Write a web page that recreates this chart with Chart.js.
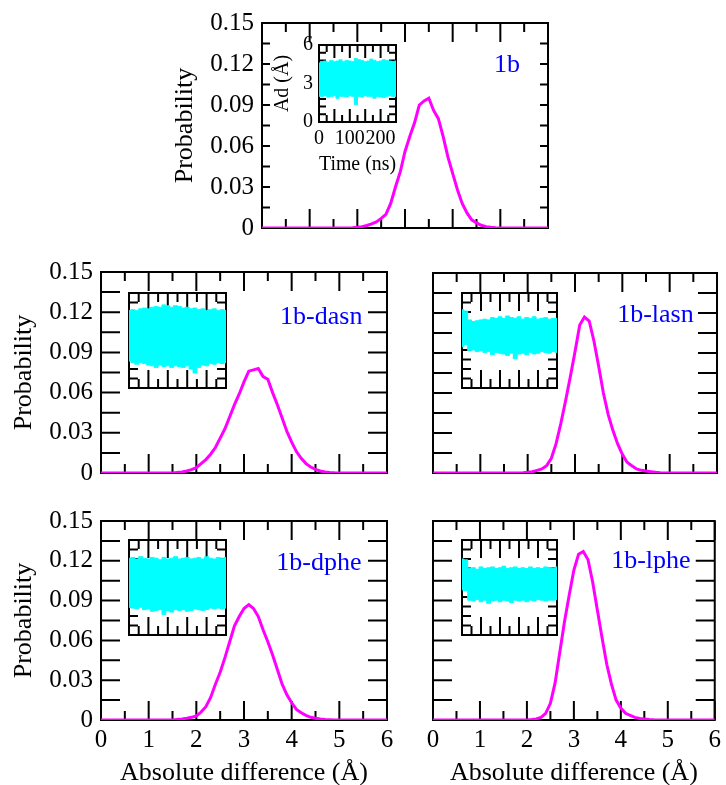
<!DOCTYPE html>
<html><head><meta charset="utf-8">
<script src="https://cdn.jsdelivr.net/npm/chart.js@4/dist/chart.umd.min.js"></script>
<style>
html,body{margin:0;padding:0;background:#fff;overflow:hidden;width:726px;height:785px;}
#wrap{position:relative;width:726px;height:785px;overflow:hidden;}
canvas{position:absolute;left:0;top:0;}
</style></head><body><div id="wrap"></div>
<script>
// ---- data ----
const absDiff = [0, 1.5,1.6,1.7,1.8,1.9, 2.0,2.1,2.2,2.3,2.4,2.5,2.6,2.7,2.8,2.9, 3.0,3.1,3.2,3.3,3.4,3.5,3.6,3.7,3.8,3.9, 4.0,4.1,4.2,4.3,4.4,4.5,4.6,4.7,4.8,4.9, 5.0, 6.0];
const prob1b   = [0, 0,0,0,0,0.0002, 0.0005,0.001,0.0018,0.003,0.0045,0.007,0.010,0.018,0.030,0.041, 0.056,0.067,0.077,0.090,0.093,0.095,0.086,0.080,0.067,0.052, 0.040,0.028,0.018,0.011,0.006,0.0037,0.002,0.001,0.0005,0.0002, 0, 0];
const prob1bDasn = [0, 0,0.0004,0.0008,0.0015,0.0025, 0.004,0.007,0.010,0.014,0.019,0.026,0.033,0.042,0.051,0.059, 0.068,0.076,0.077,0.078,0.072,0.070,0.060,0.051,0.041,0.031, 0.023,0.016,0.011,0.007,0.0045,0.0027,0.0015,0.0008,0.0004,0.0001, 0, 0];
const prob1bLasn = [0, 0,0,0,0,0.0002, 0.0005,0.001,0.002,0.003,0.0055,0.011,0.022,0.037,0.054,0.072, 0.091,0.111,0.117,0.114,0.099,0.080,0.060,0.044,0.032,0.022, 0.014,0.008,0.0055,0.003,0.002,0.0015,0.001,0.0005,0.0002,0, 0, 0];
const prob1bDphe = [0, 0,0.0004,0.0008,0.0013,0.002, 0.003,0.006,0.010,0.017,0.027,0.036,0.047,0.059,0.071,0.078, 0.084,0.087,0.084,0.078,0.068,0.059,0.049,0.038,0.027,0.019, 0.013,0.008,0.0055,0.0035,0.002,0.0013,0.0007,0.0004,0.0002,0, 0, 0];
const prob1bLphe = [0, 0,0,0,0,0, 0,0.0003,0.0008,0.002,0.005,0.0126,0.028,0.051,0.074,0.094, 0.113,0.125,0.127,0.121,0.104,0.083,0.062,0.042,0.027,0.015, 0.009,0.005,0.0035,0.002,0.0012,0.0008,0.0004,0.0001,0,0, 0, 0];

const insetTime = [0,10,20,30,40,50,60,70,80,90,100,110,120,130,140,150,160,170,180,190,200,210,220,230,240,250];
const ad1bHigh = [4.6,4.7,4.75,4.65,4.8,4.7,4.75,4.85,4.7,4.8,4.75,4.7,4.95,4.85,4.8,4.7,4.75,4.9,4.8,4.7,4.75,4.85,4.8,4.75,4.7,4.75];
const ad1bLow  = [2.0,2.0,2.05,1.95,2.0,2.05,1.85,2.0,2.0,1.95,2.05,2.0,1.35,2.0,1.95,2.05,2.0,2.0,1.85,2.0,1.95,1.9,2.0,2.05,2.0,2.0];
const adDasnHigh = [4.9,4.95,4.9,5.0,5.05,5.0,5.1,5.15,5.1,5.25,5.2,5.1,5.2,5.15,5.05,5.1,5.0,5.05,4.95,5.0,4.9,4.95,5.0,4.9,4.95,4.9];
const adDasnLow  = [1.7,1.6,1.5,1.6,1.55,1.45,1.4,1.3,1.45,1.35,1.4,1.3,1.4,1.35,1.3,1.4,1.2,0.95,1.3,1.45,1.4,1.55,1.5,1.6,1.55,1.6];
const adLasnHigh = [4.95,4.85,4.3,4.2,4.25,4.3,4.35,4.3,4.45,4.4,4.5,4.4,4.55,4.45,4.4,4.5,4.35,4.45,4.4,4.5,4.35,4.4,4.45,4.35,4.4,4.4];
const adLasnLow  = [2.6,2.75,2.35,2.4,2.3,2.35,2.25,2.3,2.1,2.25,2.2,2.15,2.05,2.2,1.85,2.15,2.2,2.1,2.25,2.15,2.2,2.3,2.25,2.2,2.3,2.25];
const adDpheHigh = [4.85,4.9,4.8,4.95,4.85,4.8,4.9,4.85,4.75,4.9,4.8,4.85,4.95,4.8,4.85,4.9,4.8,4.85,4.9,4.8,4.95,4.85,4.8,4.9,4.85,4.9];
const adDpheLow  = [1.75,1.7,1.65,1.75,1.6,1.65,1.5,1.55,1.6,1.3,1.55,1.45,1.6,1.55,1.6,1.5,1.55,1.65,1.6,1.55,1.6,1.7,1.65,1.7,1.65,1.7];
const adLpheHigh = [4.8,4.75,4.2,4.25,4.15,4.3,4.2,4.25,4.3,4.2,4.25,4.35,4.2,4.25,4.3,4.2,4.25,4.2,4.3,4.2,4.25,4.2,4.3,4.25,4.2,4.3];
const adLpheLow  = [2.85,2.8,2.2,2.15,2.25,2.1,2.2,2.0,2.15,2.2,2.1,2.2,2.15,2.05,2.2,2.15,2.2,2.1,2.2,2.15,2.25,2.2,2.15,2.2,2.2,2.25];

const xTickValues = [0,1,2,3,4,5,6];
const xTickLabels = ["0","1","2","3","4","5","6"];
const xMinorValues = [0.5,1.5,2.5,3.5,4.5,5.5];
const yTickValues = [0,0.03,0.06,0.09,0.12,0.15];
const yTickLabels = ["0","0.03","0.06","0.09","0.12","0.15"];
const yMinorValues = [0.015,0.045,0.075,0.105,0.135];
const timeTickValues = [0,100,200];
const timeTickLabels = ["0","100","200"];
const timeMajorValues = [0,50,100,150,200,250];
const timeMinorValues = [25,75,125,175,225];
const adTickValues = [0,3,6];
const adTickLabels = ["0","3","6"];
const adMinorValues = [0.6,1.2,1.8,2.4,3.6,4.2,4.8,5.4];
const panelNames = ["1b","1b-dasn","1b-lasn","1b-dphe","1b-lphe"];

// ---- drawing ----
const W = 726, H = 800;
const FONT = 'Liberation Serif';
const wrap = document.getElementById('wrap');

const framePlugin = {
  id: 'frame',
  beforeDatasetsDraw(chart, args, o) {
    const {ctx, chartArea: a} = chart;
    const x = chart.scales.x, y = chart.scales.y;
    ctx.save();
    ctx.strokeStyle = '#000';
    ctx.lineWidth = 2;
    ctx.lineCap = 'butt';
    ctx.beginPath();
    const xt = [[o.xMajor, o.xMajorLen], [o.xMinor, o.xMinorLen]];
    for (const [vals, len] of xt) for (const v of vals) {
      const p = x.getPixelForValue(v);
      ctx.moveTo(p, a.bottom); ctx.lineTo(p, a.bottom - len);
      ctx.moveTo(p, a.top); ctx.lineTo(p, a.top + len);
    }
    const yt = [[o.yMajor, o.yMajorLen], [o.yMinor, o.yMinorLen]];
    for (const [vals, len] of yt) for (const v of vals) {
      const p = y.getPixelForValue(v);
      ctx.moveTo(a.left, p); ctx.lineTo(a.left + len, p);
      ctx.moveTo(a.right, p); ctx.lineTo(a.right - len, p);
    }
    ctx.stroke();
    ctx.strokeRect(a.left, a.top, a.right - a.left, a.bottom - a.top);
    ctx.restore();
  }
};

const labelPlugin = {
  id: 'panelLabel',
  afterDatasetsDraw(chart, args, o) {
    if (!o || !o.text) return;
    const {ctx} = chart;
    ctx.save();
    ctx.font = '26px "' + FONT + '"';
    ctx.fillStyle = '#0000ff';
    ctx.textAlign = 'center';
    ctx.textBaseline = 'middle';
    ctx.fillText(o.text, chart.scales.x.getPixelForValue(o.x), chart.scales.y.getPixelForValue(o.y));
    ctx.restore();
  }
};

function addCanvas() {
  const c = document.createElement('canvas');
  c.width = W; c.height = H;
  c.style.width = W + 'px'; c.style.height = H + 'px';
  wrap.appendChild(c);
  return c;
}

function mainChart(area, ys, name, lab, showY, showX, yLen) {
  const wy = showY ? 100 : 0, hx = showX ? 69 : 0;
  new Chart(addCanvas(), {
    type: 'line',
    data: {datasets: [{data: absDiff.map((x, i) => ({x, y: ys[i]})), borderColor: '#ff00ff', borderWidth: 3,
      pointRadius: 0, tension: 0, fill: false}]},
    options: {
      responsive: false, animation: false, events: [],
      layout: {padding: {left: area.L - wy, top: area.T, right: W - area.R, bottom: H - area.B - hx}},
      plugins: {
        legend: {display: false}, tooltip: {enabled: false},
        frame: {xMajor: xTickValues, xMinor: xMinorValues, xMajorLen: 19, xMinorLen: 9,
                yMajor: yTickValues, yMinor: yMinorValues, yMajorLen: yLen, yMinorLen: yLen},
        panelLabel: {text: name, x: lab[0], y: lab[1]}
      },
      scales: {
        x: {type: 'linear', min: 0, max: 6, grid: {display: false, drawTicks: false}, border: {display: false},
          afterBuildTicks: s => { s.ticks = xTickValues.map(v => ({value: v})); },
          afterFit: s => { s.height = hx; },
          ticks: {display: showX, padding: 5, color: '#000', autoSkip: false, maxRotation: 0,
            font: {family: FONT, size: 25}, callback: (v, i) => xTickLabels[i]},
          title: {display: showX, text: 'Absolute difference (Å)', color: '#000',
            font: {family: FONT, size: 26}, padding: {top: 0, bottom: 0}}},
        y: {type: 'linear', min: 0, max: 0.15, grid: {display: false, drawTicks: false}, border: {display: false},
          afterBuildTicks: s => { s.ticks = yTickValues.map(v => ({value: v})); },
          afterFit: s => { s.width = wy; },
          ticks: {display: showY, padding: 8, color: '#000', autoSkip: false,
            font: {family: FONT, size: 25}, callback: (v, i) => yTickLabels[i]},
          title: {display: showY, text: 'Probability', color: '#000',
            font: {family: FONT, size: 26}, padding: {top: 8, bottom: 0}}}
      }
    },
    plugins: [framePlugin, labelPlugin]
  });
}

function insetChart(area, hi, lo, withLabels, big) {
  const wy = withLabels ? 50 : 0, hx = withLabels ? 55 : 0;
  const band = {borderColor: '#00ffff', backgroundColor: '#00ffff', borderWidth: 1, pointRadius: 0, stepped: 'middle'};
  new Chart(addCanvas(), {
    type: 'line',
    data: {datasets: [
      Object.assign({data: insetTime.map((t, i) => ({x: t, y: lo[i]})), fill: false}, band),
      Object.assign({data: insetTime.map((t, i) => ({x: t, y: hi[i]})), fill: '-1'}, band)
    ]},
    options: {
      responsive: false, animation: false, events: [],
      layout: {padding: {left: area.L - wy, top: area.T, right: W - area.R, bottom: H - area.B - hx}},
      plugins: {
        legend: {display: false}, tooltip: {enabled: false},
        frame: {xMajor: timeMajorValues, xMinor: timeMinorValues, xMajorLen: big ? 18 : 13, xMinorLen: big ? 9 : 7,
                yMajor: adTickValues, yMinor: adMinorValues, yMajorLen: big ? 18 : 13, yMinorLen: big ? 9 : 7},
        panelLabel: {}
      },
      scales: {
        x: {type: 'linear', min: 0, max: 250, grid: {display: false, drawTicks: false}, border: {display: false},
          afterBuildTicks: s => { s.ticks = timeTickValues.map(v => ({value: v})); },
          afterFit: s => { s.height = hx; },
          ticks: {display: withLabels, padding: 5, color: '#000', autoSkip: false, maxRotation: 0,
            font: {family: FONT, size: 20}, callback: (v, i) => timeTickLabels[i]},
          title: {display: withLabels, text: 'Time (ns)', color: '#000',
            font: {family: FONT, size: 20}, padding: {top: 0, bottom: 0}}},
        y: {type: 'linear', min: 0, max: 6, grid: {display: false, drawTicks: false}, border: {display: false},
          afterBuildTicks: s => { s.ticks = adTickValues.map(v => ({value: v})); },
          afterFit: s => { s.width = wy; },
          ticks: {display: withLabels, padding: 6, color: '#000', autoSkip: false,
            font: {family: FONT, size: 20}, callback: (v, i) => adTickLabels[i]},
          title: {display: withLabels, text: 'Ad (Å)', color: '#000',
            font: {family: FONT, size: 20}, padding: {top: 2, bottom: 0}}}
      }
    },
    plugins: [framePlugin]
  });
}

mainChart({L: 262, T: 23, R: 548, B: 228}, prob1b,     panelNames[0], [5.14, 0.119], true,  false, 8);
mainChart({L: 101, T: 272, R: 387, B: 473}, prob1bDasn, panelNames[1], [4.62, 0.116], true,  false, 19);
mainChart({L: 433, T: 273, R: 717, B: 473}, prob1bLasn, panelNames[2], [4.70, 0.118], false, false, 19);
mainChart({L: 101, T: 521, R: 387, B: 720}, prob1bDphe, panelNames[3], [4.57, 0.118], true,  true,  19);
mainChart({L: 433, T: 521, R: 717, B: 720}, prob1bLphe, panelNames[4], [4.64, 0.120], false, true,  19);

insetChart({L: 319, T: 45,  R: 396, B: 122}, ad1bHigh,   ad1bLow,   true,  false);
insetChart({L: 129, T: 293, R: 226, B: 388}, adDasnHigh, adDasnLow, false, true);
insetChart({L: 462, T: 293, R: 557, B: 388}, adLasnHigh, adLasnLow, false, true);
insetChart({L: 129, T: 540, R: 226, B: 635}, adDpheHigh, adDpheLow, false, true);
insetChart({L: 462, T: 540, R: 557, B: 635}, adLpheHigh, adLpheLow, false, true);
</script></body></html>
